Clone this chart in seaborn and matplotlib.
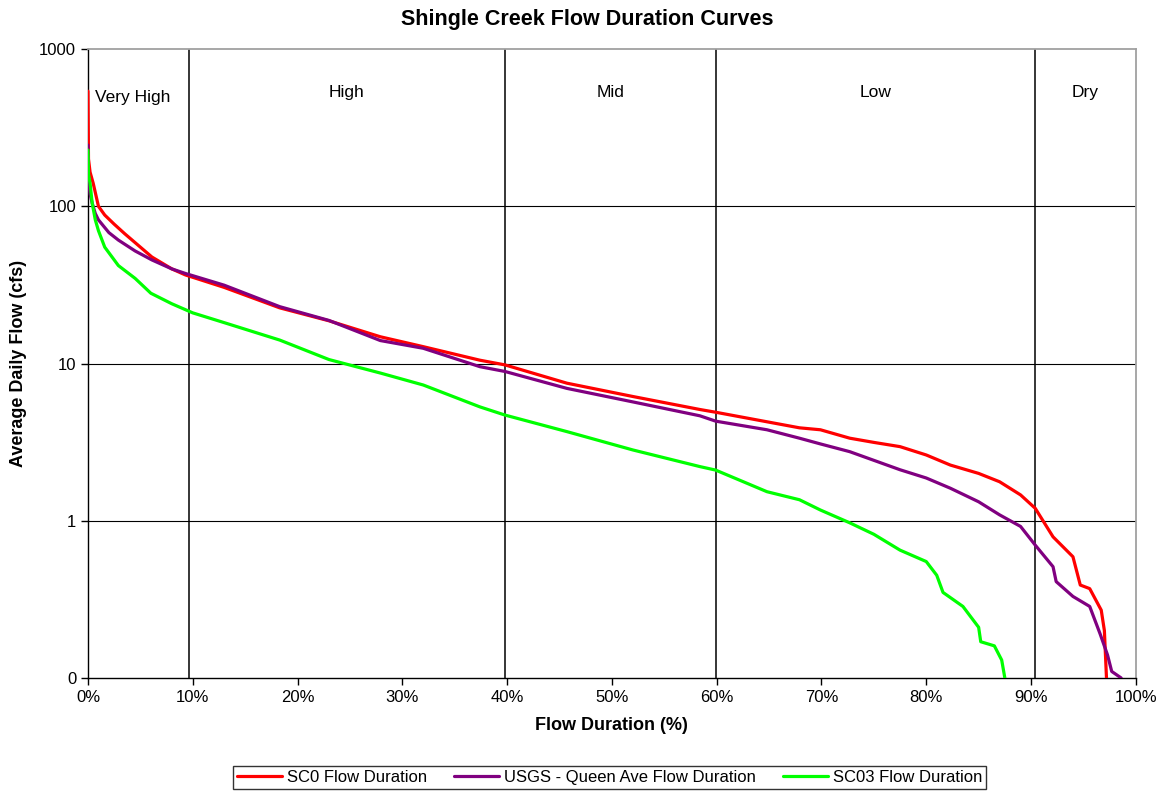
import numpy as np
import pandas as pd
import matplotlib
matplotlib.use('Agg')
import matplotlib.pyplot as plt
import seaborn as sns

# percent of time flow is exceeded, and average daily flow (cfs)
sc0_pct = [0, 0.05, 0.2, 0.5, 1.0, 1.6, 2.5, 3.5, 5, 6.1, 8, 9.3, 13, 18.3, 23, 27.9,
           32, 37.4, 39.8, 45.7, 52, 58.4, 59.9, 64.8, 67.9, 69.9, 72.7, 75, 77.5, 80,
           82.3, 85, 87, 89, 90.4, 92.1, 94, 94.7, 95.6, 96.7, 97.0, 97.2]
sc0_flow = [540, 200, 165, 140, 100, 88, 77, 67, 55, 47.6, 40, 36.6, 30.5, 22.6, 18.7, 14.8,
            12.8, 10.5, 9.8, 7.5, 6.17, 5.1, 4.9, 4.26, 3.9, 3.79, 3.35, 3.15, 2.96, 2.62,
            2.26, 2.0, 1.77, 1.46, 1.2, 0.79, 0.59, 0.39, 0.37, 0.27, 0.2, 0.1]

usgs_pct = [0, 0.05, 0.2, 0.4, 0.7, 1.0, 2.0, 2.9, 4.5, 6.1, 8, 9.3, 13, 18.3, 23, 27.9,
            32, 37.4, 39.8, 45.7, 52, 58.4, 59.9, 64.8, 67.9, 69.9, 72.7, 77.5, 80, 82.3,
            85, 87, 89, 90.4, 92.1, 92.4, 94, 95.6, 96.6, 97.3, 97.7, 98.6]
usgs_flow = [245, 150, 120, 105, 90, 82, 68, 61, 52, 45.6, 40, 37.4, 31.5, 23, 18.8, 14,
             12.5, 9.55, 8.9, 6.95, 5.7, 4.65, 4.3, 3.79, 3.35, 3.08, 2.75, 2.11, 1.87, 1.61,
             1.32, 1.09, 0.92, 0.70, 0.51, 0.41, 0.33, 0.285, 0.19, 0.14, 0.11, 0.1]

sc03_pct = [0, 0.05, 0.2, 0.4, 0.7, 1.0, 1.6, 2.9, 4.5, 6, 8, 10, 13, 18.3, 23, 27.9,
            32, 37.4, 39.8, 45.7, 52, 58.4, 59.9, 64.8, 67.9, 69.9, 72.7, 75, 77.5, 80,
            81, 81.6, 83.5, 85, 85.2, 86.5, 87.2, 87.5]
sc03_flow = [228, 160, 140, 105, 82, 70, 55, 42, 34.8, 28, 24, 21, 18.2, 14.1, 10.6, 8.7,
             7.3, 5.3, 4.7, 3.69, 2.82, 2.21, 2.1, 1.53, 1.36, 1.17, 0.97, 0.82, 0.65, 0.55,
             0.45, 0.35, 0.285, 0.21, 0.17, 0.16, 0.13, 0.1]

series_names = ['SC0 Flow Duration', 'USGS - Queen Ave Flow Duration', 'SC03 Flow Duration']
series_colors = ['#FF0000', '#800080', '#00FF00']

zone_names = ['Very High', 'High', 'Mid', 'Low', 'Dry']
zone_edges = [0, 9.6, 39.8, 59.9, 90.4, 100]

y_ticks = [0.1, 1, 10, 100, 1000]
y_tick_labels = ['0', '1', '10', '100', '1000']
x_ticks = list(range(0, 101, 10))
x_tick_labels = [f'{t}%' for t in x_ticks]

df = pd.concat([
    pd.DataFrame({'pct': sc0_pct, 'flow': sc0_flow, 'series': series_names[0]}),
    pd.DataFrame({'pct': usgs_pct, 'flow': usgs_flow, 'series': series_names[1]}),
    pd.DataFrame({'pct': sc03_pct, 'flow': sc03_flow, 'series': series_names[2]}),
])

sns.set_theme(style='white')
plt.rcParams['font.family'] = ['Liberation Sans', 'DejaVu Sans']
plt.rcParams['text.color'] = 'black'
plt.rcParams['axes.labelcolor'] = 'black'

fig = plt.figure(figsize=(11.59, 7.92), dpi=100)
ax = fig.add_axes([0.0759, 0.144, 0.9041, 0.794])
ax.set_yscale('log')

# horizontal grid at decades
for yv in [1, 10, 100]:
    ax.axhline(yv, color='black', linewidth=0.8, zorder=1)
# flow zone boundaries
for xv in zone_edges[1:-1]:
    ax.axvline(xv, color='black', linewidth=1.1, zorder=1)

for name, color in zip(series_names, series_colors):
    sns.lineplot(data=df[df['series'] == name], x='pct', y='flow', color=color,
                 linewidth=2.3, sort=False, estimator=None, label=name, ax=ax, zorder=3)

handles, labels = ax.get_legend_handles_labels()
ax.get_legend().remove()

ax.set_xlim(0, 100)
ax.set_ylim(0.1, 1000)
ax.set_yticks(y_ticks, y_tick_labels)
ax.minorticks_off()
ax.set_xticks(x_ticks, x_tick_labels)
ax.tick_params(axis='both', labelsize=12, colors='black', length=5, width=1,
               direction='out', bottom=True, left=True)

for side in ['left', 'bottom']:
    ax.spines[side].set_color('black')
    ax.spines[side].set_linewidth(1.0)
for side in ['top', 'right']:
    ax.spines[side].set_color('#a0a0a0')
    ax.spines[side].set_linewidth(1.3)

# zone labels
ax.text(0.7, 495, zone_names[0], fontsize=12.5, ha='left', va='center')
for i in range(1, len(zone_names)):
    xc = (zone_edges[i] + zone_edges[i + 1]) / 2
    ax.text(xc, 533, zone_names[i], fontsize=12.5, ha='center', va='center')

ax.set_xlabel('Flow Duration (%)', fontsize=13, fontweight='bold', labelpad=9)
ax.set_ylabel('Average Daily Flow (cfs)', fontsize=13, fontweight='bold', labelpad=9)
fig.suptitle('Shingle Creek Flow Duration Curves', x=0.507, y=0.976, va='center',
             fontsize=15.5, fontweight='bold')

leg = fig.legend(handles, labels, loc='center', bbox_to_anchor=(0.526, 0.0185), ncol=3,
                 frameon=True, fancybox=False, edgecolor='black', fontsize=12,
                 handlelength=2.7, handletextpad=0.3, columnspacing=1.6,
                 borderpad=0.25, borderaxespad=0)
leg.get_frame().set_linewidth(1.0)
for line in leg.get_lines():
    line.set_linewidth(2.3)

fig.savefig('out.png', dpi=100)
